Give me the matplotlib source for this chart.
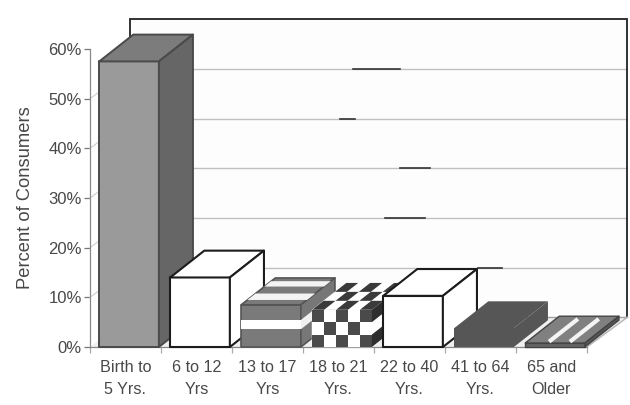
import matplotlib
matplotlib.use('Agg')
from matplotlib import pyplot as plt
from matplotlib.patches import Polygon

plt.rcParams['font.family'] = ['Liberation Sans', 'DejaVu Sans']

categories = ['Birth to\n5 Yrs.', '6 to 12\nYrs', '13 to 17\nYrs', '18 to 21\nYrs.',
              '22 to 40\nYrs.', '41 to 64\nYrs.', '65 and\nOlder']
percents = [57.5, 14.0, 8.5, 7.5, 10.3, 3.8, 0.8]
y_ticks = [0, 10, 20, 30, 40, 50, 60]
y_labels = ['0%', '10%', '20%', '30%', '40%', '50%', '60%']

# darker bits of the gridlines in the scan: grid value, from category, to category
dark_grid = [50, 40, 30, 20, 10]
dark_from = [3.2, 3.02, 3.87, 3.65, 4.96]
dark_to = [3.87, 3.23, 4.29, 4.22, 5.3]

# bar and wall sizes in axis units
bar_width = 0.84
bar_shift = 0.05
depth_x = 0.48
depth_y = 5.4
wall_x = 0.57
wall_y = 6.0

txt = '#484848'
edge = '#4a4a4a'

fig = plt.figure(figsize=(6.3, 4.05), dpi=100)
ax = fig.add_axes([90 / 630, 1 - 347 / 405, 497 / 630, 298 / 405])
ax.set_xlim(-0.5, 6.5)
ax.set_ylim(0, 60)


def para(o, u, v, fc, ec='none', lw=0.0, z=3):
    # parallelogram from a corner and two side vectors
    pts = [o, (o[0] + u[0], o[1] + u[1]), (o[0] + u[0] + v[0], o[1] + u[1] + v[1]), (o[0] + v[0], o[1] + v[1])]
    ax.add_patch(Polygon(pts, closed=True, fc=fc, ec=ec, lw=lw, clip_on=False, zorder=z, joinstyle='round'))


def sub(o, u, v, a0, a1, b0, b1):
    # part of a parallelogram, a along u and b along v
    p = (o[0] + u[0] * a0 + v[0] * b0, o[1] + u[1] * a0 + v[1] * b0)
    return p, (u[0] * (a1 - a0), u[1] * (a1 - a0)), (v[0] * (b1 - b0), v[1] * (b1 - b0))


def checker(o, u, v, nu, nv, fc, z):
    for a in range(nu):
        for b in range(nv):
            if (a + b) % 2 == 0:
                p, uu, vv = sub(o, u, v, a / nu, (a + 1) / nu, b / nv, (b + 1) / nv)
                para(p, uu, vv, fc, z=z)


def box(i, h, front, top, side, ec=edge, lw=1.4):
    x0 = i + bar_shift - bar_width / 2
    z = 4 + i
    u = (bar_width, 0)
    d = (depth_x, depth_y)
    para((x0, 0), u, (0, h), front, ec, lw, z)
    para((x0, h), u, d, top, ec, lw, z)
    para((x0 + bar_width, 0), d, (0, h), side, ec, lw, z)
    return x0, z, u, d


# back wall and floor
para((-0.5 + wall_x, wall_y), (7, 0), (0, 60), '#fdfdfd', z=1)
para((-0.5, 0), (7, 0), (wall_x, wall_y), '#f0f0f0', z=1)
for g in y_ticks[1:-1]:
    ax.plot([-0.5 + wall_x, 6.5 + wall_x], [g + wall_y, g + wall_y], color='#c0c0c0', lw=1.0, clip_on=False, zorder=2)
    ax.plot([-0.5, -0.5 + wall_x], [g, g + wall_y], color='#cccccc', lw=0.8, clip_on=False, zorder=2)
for g, a, b in zip(dark_grid, dark_from, dark_to):
    ax.plot([a, b], [g + wall_y, g + wall_y], color='#333333', lw=1.2, clip_on=False, zorder=2)
ax.plot([-0.5 + wall_x, -0.5 + wall_x, 6.5 + wall_x, 6.5 + wall_x], [60, 66, 66, wall_y],
        color='#222222', lw=1.3, clip_on=False, zorder=2, solid_joinstyle='miter')
ax.plot([-0.5 + wall_x, 6.5 + wall_x], [wall_y, wall_y], color='#a0a0a0', lw=1.0, clip_on=False, zorder=2)
ax.plot([6.5, 6.5 + wall_x], [0, wall_y], color='#b4b4b4', lw=1.0, clip_on=False, zorder=2)

# birth to 5
box(0, percents[0], '#9a9a9a', '#7c7c7c', '#666666')

# 6 to 12
box(1, percents[1], 'white', 'white', 'white', '#1c1c1c', 1.5)

# 13 to 17, striped
x0, z, u, d = box(2, percents[2], '#7a7a7a', '#7a7a7a', '#777777', '#555555', 1.2)
para(*sub((x0, 0), u, (0, percents[2]), 0, 1, 0.42, 0.64), 'white', z=z)
para(*sub((x0 + bar_width, 0), d, (0, percents[2]), 0, 1, 0.42, 0.64), '#f0f0f0', z=z)
for b0, b1 in [(0.18, 0.42), (0.68, 0.88)]:
    para(*sub((x0, percents[2]), u, d, 0, 1, b0, b1), '#f4f4f4', z=z)

# 18 to 21, checks
x0, z, u, d = box(3, percents[3], 'white', 'white', 'white', 'white', 0.3)
checker((x0, 0), u, (0, percents[3]), 5, 3, '#4a4a4a', z)
checker((x0, percents[3]), u, d, 5, 3, '#3a3a3a', z)
checker((x0 + bar_width, 0), d, (0, percents[3]), 3, 3, '#2e2e2e', z)

# 22 to 40
box(4, percents[4], 'white', 'white', 'white', '#1c1c1c', 1.5)

# 41 to 64
box(5, percents[5], '#565656', '#565656', '#565656', 'none', 0)

# 65 and older, stripes run front to back
x0, z, u, d = box(6, percents[6], '#666666', '#808080', '#555555', '#444444', 1.0)
for a in [0.37, 0.72]:
    ax.plot([x0 + bar_width * a + depth_x * 0.1, x0 + bar_width * a + depth_x * 0.85],
            [percents[6] + depth_y * 0.1, percents[6] + depth_y * 0.85],
            color='#f4f4f4', lw=3.0, clip_on=False, zorder=z + 1)

for s in ['top', 'right']:
    ax.spines[s].set_visible(False)
for s in ['left', 'bottom']:
    ax.spines[s].set_color('#888888')
    ax.spines[s].set_linewidth(0.9)

ax.set_yticks(y_ticks)
ax.set_yticklabels(y_labels)
ax.tick_params(axis='y', length=4, width=0.9, color='#777777', labelcolor=txt, labelsize=12, pad=2)
ax.set_xticks([i - 0.5 for i in range(8)])
ax.set_xticklabels([])
ax.tick_params(axis='x', which='major', length=4, width=0.9, color='#aaaaaa')
ax.set_xticks(range(7), categories, minor=True)
ax.tick_params(axis='x', which='minor', length=0, labelcolor=txt, labelsize=11.6, pad=9)
for t in ax.get_xticklabels(minor=True):
    t.set_linespacing(1.65)
ax.set_ylabel('Percent of Consumers', fontsize=13.2, color=txt, labelpad=10)

fig.savefig('out.png', dpi=100)
